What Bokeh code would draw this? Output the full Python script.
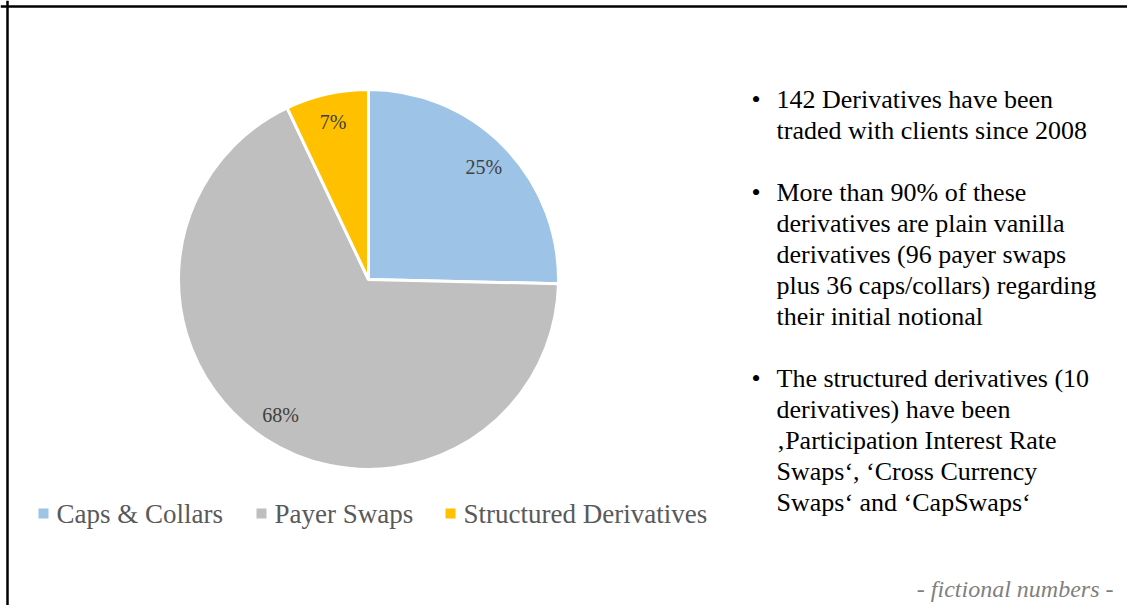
import math
from bokeh.plotting import figure
from bokeh.models import Range1d, Span, ColumnDataSource
from bokeh.embed import file_html
from bokeh.resources import INLINE
from bokeh.core.properties import value

# ---- data ----
categories = ["Caps & Collars", "Payer Swaps", "Structured Derivatives"]
counts = [36, 96, 10]
colors = ["#9DC3E6", "#BFBFBF", "#FFC000"]

bullets = [
    ["142 Derivatives have been", "traded with clients since 2008"],
    ["More than 90% of these", "derivatives are plain vanilla",
     "derivatives (96 payer swaps", "plus 36 caps/collars) regarding",
     "their initial notional"],
    ["The structured derivatives (10", "derivatives) have been",
     "\u201aParticipation Interest Rate", "Swaps\u2018, \u2018Cross Currency",
     "Swaps\u2018 and \u2018CapSwaps\u2018"],
]
note = "- fictional numbers -"

# ---- layout ----
W, H = 1127, 605
SERIF = value("Liberation Serif")

p = figure(width=W, height=H, output_backend="svg", toolbar_location=None,
           x_range=Range1d(0, W), y_range=Range1d(0, H),
           x_axis_type=None, y_axis_type=None, min_border=0,
           background_fill_color="white", border_fill_color="white")
p.outline_line_color = None
p.grid.visible = False

# frame lines (left and top)
p.add_layout(Span(location=7, dimension="height", line_color="black", line_width=2.5))
p.add_layout(Span(location=H - 6, dimension="width", line_color="black", line_width=2.5))

# ---- pie ----
cx, cy, R = 368, 326, 190
total = sum(counts)
starts, ends, mids = [], [], []
cum = 0
for c in counts:
    a0 = math.pi / 2 - 2 * math.pi * cum / total
    cum += c
    a1 = math.pi / 2 - 2 * math.pi * cum / total
    starts.append(a0)
    ends.append(a1)
    mids.append((a0 + a1) / 2)

src = ColumnDataSource(dict(cat=categories, val=counts, color=colors,
                            start=starts, end=ends))
p.wedge(x=cx, y=cy, radius=R, start_angle="start", end_angle="end",
        direction="clock", fill_color="color", line_color="white",
        line_width=3, source=src)

lr = 0.85 * R
labels = [f"{round(100 * c / total)}%" for c in counts]
lsrc = ColumnDataSource(dict(
    x=[cx + lr * math.cos(m) for m in mids],
    y=[cy + lr * math.sin(m) for m in mids],
    t=labels))
p.text(x="x", y="y", text="t", source=lsrc, text_font=SERIF,
       text_font_size="20px", text_color="#404040",
       text_align="center", text_baseline="middle")

# ---- legend ----
legend_x = [43, 261, 450]
legend_y = 92
p.scatter(x=legend_x, y=[legend_y] * 3, marker="square", size=10,
          fill_color=colors, line_color=None)
p.text(x=[x + 13 for x in legend_x], y=[legend_y] * 3, text=categories,
       text_font=SERIF, text_font_size="27px", text_color="#595959",
       text_align="left", text_baseline="alphabetic")

# ---- bullet text ----
tx, bx = 776, 751
lines_x, lines_y, lines_t = [], [], []
dots_y = []
k = 0
for para in bullets:
    dots_y.append(506 - 31 * k)
    for ln in para:
        lines_x.append(tx)
        lines_y.append(506 - 31 * k)
        lines_t.append(ln)
        k += 1
    k += 1
p.text(x=lines_x, y=lines_y, text=lines_t, text_font=SERIF,
       text_font_size="26px", text_color="black",
       text_align="left", text_baseline="alphabetic")
p.text(x=[bx] * len(dots_y), y=dots_y, text=["\u2022"] * len(dots_y),
       text_font=SERIF, text_font_size="26px", text_color="black",
       text_align="left", text_baseline="alphabetic")

# ---- note ----
p.text(x=[1113], y=[17], text=[note], text_font=SERIF, text_font_style="italic",
       text_font_size="24px", text_color="#7F7F7F",
       text_align="right", text_baseline="alphabetic")

open("out.html", "w").write(file_html(p, INLINE))
